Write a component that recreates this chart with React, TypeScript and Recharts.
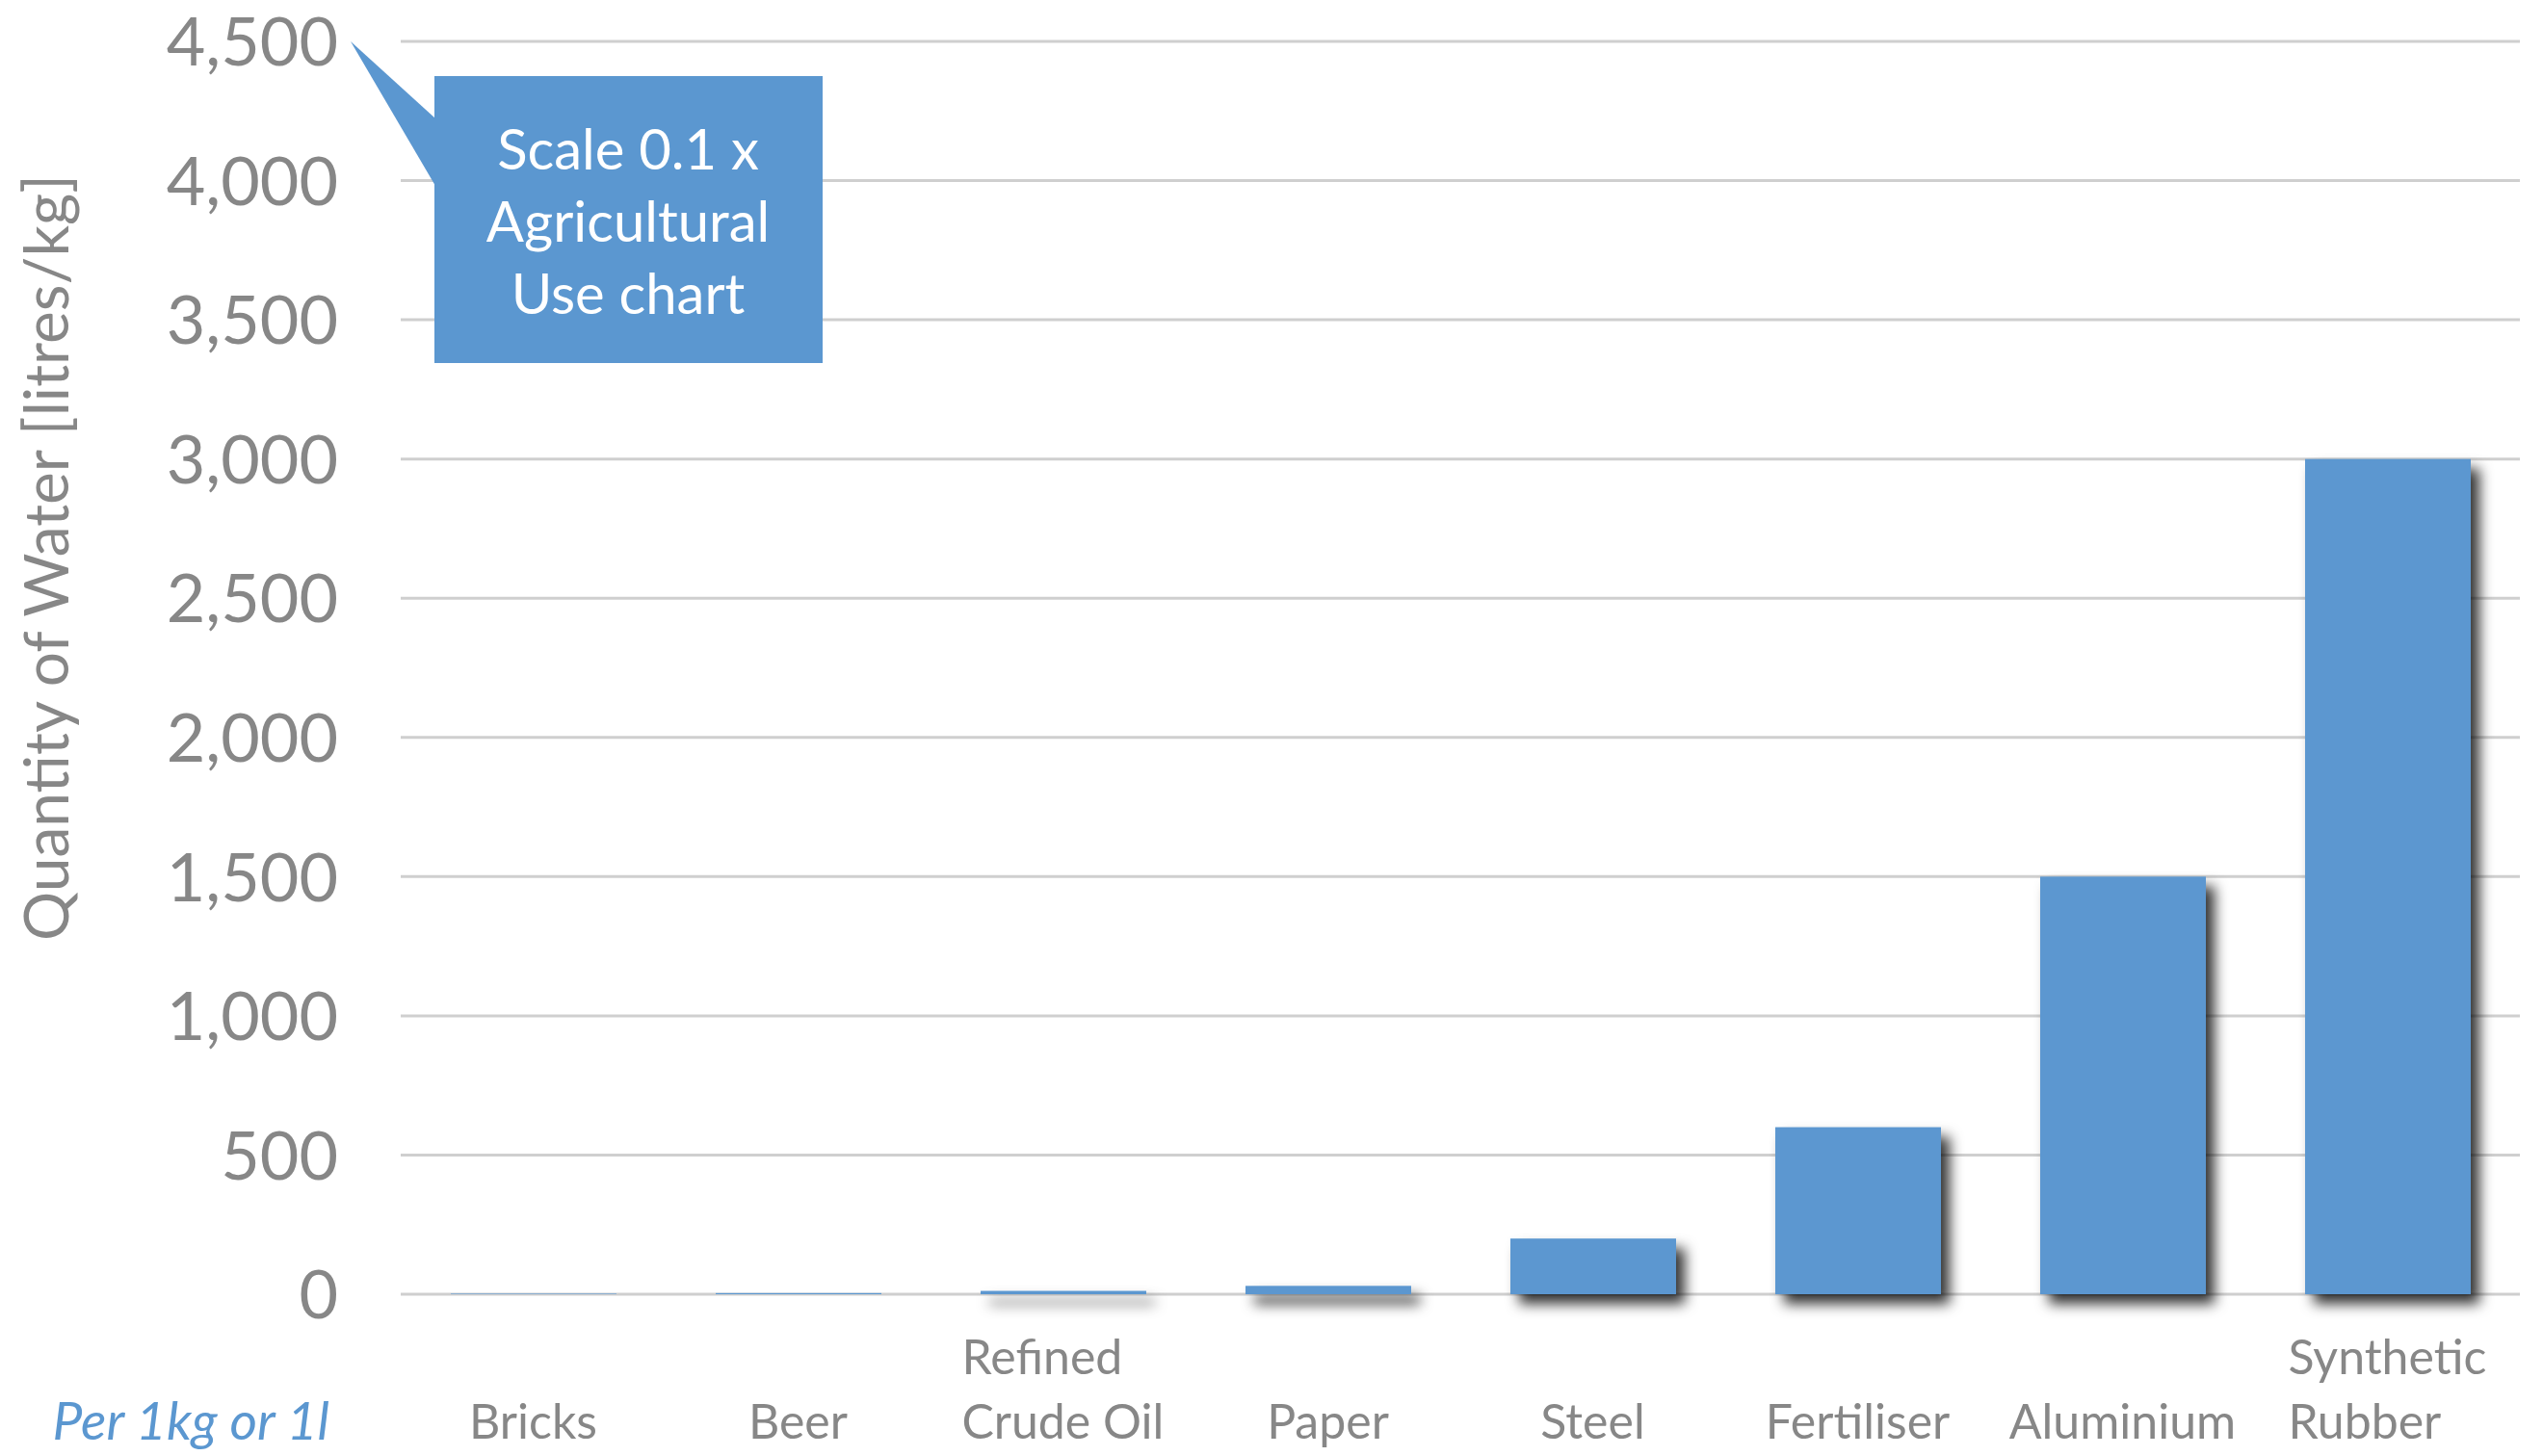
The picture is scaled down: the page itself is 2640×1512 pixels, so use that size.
import React from "react"
import { BarChart, Bar, XAxis, YAxis, CartesianGrid } from "recharts"

// water needed per 1kg (or 1l) of product
const categories = [
  "Bricks",
  "Beer",
  "Refined\nCrude Oil",
  "Paper",
  "Steel",
  "Fertiliser",
  "Aluminium",
  "Synthetic\nRubber",
]
const waterUse = [2, 4, 12, 30, 200, 600, 1500, 3000]
const yTicks = [0, 500, 1000, 1500, 2000, 2500, 3000, 3500, 4000, 4500]
const calloutLines = ["Scale 0.1 x", "Agricultural", "Use chart"]

const data = categories.map((name, i) => ({ name, water: waterUse[i] }))

const W = 2640
const H = 1512
const GREY = "#878787"
const BLUE = "#5b97d0"
const FONT = "Lato, 'Open Sans', sans-serif"

let ctx: CanvasRenderingContext2D | null = null
function measure(text: string, size: number) {
  if (!ctx) ctx = document.createElement("canvas").getContext("2d")
  if (!ctx) return text.length * size * 0.5
  ctx.font = `${size}px Lato`
  return ctx.measureText(text).width
}

function CategoryTick(props: any) {
  const { x, y, payload } = props
  const lines: string[] = String(payload.value).split("\n")
  const size = 50
  const widest = Math.max(...lines.map((l) => measure(l, size)))
  const left = x - widest / 2
  return (
    <g>
      {lines.map((line, i) => (
        <text
          key={i}
          x={left}
          y={y + 150 - (lines.length - 1 - i) * 67}
          fontSize={size}
          fontFamily={FONT}
          fill={GREY}
          textAnchor="start"
        >
          {line}
        </text>
      ))}
    </g>
  )
}

function ValueTick(props: any) {
  const { x, y, payload } = props
  return (
    <text x={x} y={y} dy="0.36em" fontSize={70} fontFamily={FONT} fill={GREY} textAnchor="end">
      {Number(payload.value).toLocaleString("en-US")}
    </text>
  )
}

// bars under a couple of pixels are too thin to cast a visible shadow
function ShadowBar(props: any) {
  const { x, y, width, height } = props
  if (!height || height <= 0) return null
  return (
    <rect
      x={x}
      y={y}
      width={width}
      height={height}
      fill={BLUE}
      filter={height >= 2 ? "url(#barShadow)" : undefined}
    />
  )
}

export default function App() {
  return (
    <div style={{ position: "absolute", left: 0, top: 0, width: W, height: H, background: "#fff" }}>
      <BarChart
        width={W}
        height={H}
        data={data}
        margin={{ top: 43, right: 24, left: 0, bottom: 0 }}
        barSize={172}
      >
        <CartesianGrid vertical={false} stroke="#cfcfcf" strokeWidth={3} />
        <XAxis
          dataKey="name"
          axisLine={false}
          tickLine={false}
          tickSize={0}
          tickMargin={0}
          height={168}
          interval={0}
          tick={<CategoryTick />}
        />
        <YAxis
          domain={[0, 4500]}
          ticks={yTicks}
          axisLine={false}
          tickLine={false}
          tickSize={0}
          tickMargin={65}
          width={416}
          interval={0}
          tick={<ValueTick />}
        />
        <Bar dataKey="water" shape={<ShadowBar />} isAnimationActive={false} />
      </BarChart>

      <svg
        width={W}
        height={H}
        style={{ position: "absolute", left: 0, top: 0, pointerEvents: "none" }}
      >
        <defs>
          <filter id="barShadow" filterUnits="userSpaceOnUse" x={0} y={0} width={W} height={H}>
            <feDropShadow dx={9} dy={10} stdDeviation={7} floodColor="#000" floodOpacity={0.8} />
          </filter>
        </defs>

        {/* y axis title */}
        <text
          transform="translate(46,579) rotate(-90)"
          textAnchor="middle"
          dominantBaseline="central"
          fontSize={64}
          fontFamily={FONT}
          fill={GREY}
        >
          Quantity of Water [litres/kg]
        </text>

        {/* unit note under the axis */}
        <text
          x={342}
          y={1495}
          textAnchor="end"
          fontSize={55}
          fontStyle="italic"
          fontFamily={FONT}
          fill={BLUE}
        >
          Per 1kg or 1l
        </text>

        {/* callout pointing at the top tick */}
        <polygon points="364,43 452,123 452,193" fill={BLUE} />
        <rect x={451} y={79} width={403} height={298} fill={BLUE} />
        {calloutLines.map((line, i) => (
          <text
            key={i}
            x={652}
            y={176 + i * 75}
            textAnchor="middle"
            fontSize={58}
            fontFamily={FONT}
            fill="#fff"
          >
            {line}
          </text>
        ))}
      </svg>
    </div>
  )
}
